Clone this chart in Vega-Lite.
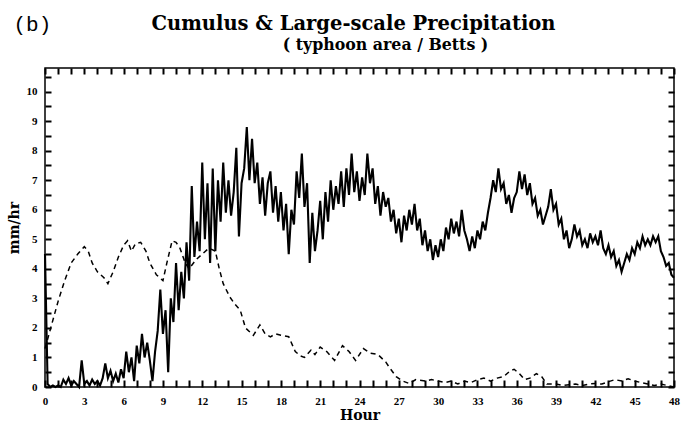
{
  "$schema": "https://vega.github.io/schema/vega-lite/v6.json",
  "width": 629,
  "height": 319,
  "autosize": {"type": "none"},
  "padding": {"left": 45, "top": 68, "right": 17, "bottom": 43},
  "background": "white",
  "view": {"stroke": "black", "strokeWidth": 1.5},
  "title": {
    "text": "Cumulus & Large-scale Precipitation",
    "anchor": "middle",
    "frame": "group",
    "dx": -6,
    "offset": -21,
    "font": "DejaVu Serif",
    "fontWeight": "bold",
    "fontSize": 19.5,
    "color": "black"
  },
  "datasets": {
    "solid": [
      {"h":0,"v":4.5},{"h":0.2,"v":0.1},{"h":0.4,"v":0},{"h":0.6,"v":0.05},{"h":0.8,"v":0},{"h":1.0,"v":0.05},{"h":1.2,"v":0},{"h":1.4,"v":0.25},{"h":1.6,"v":0.1},{"h":1.8,"v":0.3},
      {"h":2.0,"v":0.05},{"h":2.2,"v":0.2},{"h":2.4,"v":0.1},{"h":2.6,"v":0},{"h":2.8,"v":0.9},{"h":3.0,"v":0.1},{"h":3.2,"v":0.2},{"h":3.4,"v":0.05},{"h":3.6,"v":0.25},{"h":3.8,"v":0.1},
      {"h":4.0,"v":0.2},{"h":4.2,"v":0.05},{"h":4.4,"v":0.3},{"h":4.6,"v":0.8},{"h":4.8,"v":0.3},{"h":5.0,"v":0.55},{"h":5.2,"v":0.2},{"h":5.4,"v":0.45},{"h":5.6,"v":0.15},{"h":5.8,"v":0.6},
      {"h":6.0,"v":0.3},{"h":6.2,"v":1.2},{"h":6.4,"v":0.5},{"h":6.6,"v":1.0},{"h":6.8,"v":0.2},{"h":7.0,"v":1.4},{"h":7.2,"v":0.8},{"h":7.4,"v":1.8},{"h":7.6,"v":1.0},{"h":7.8,"v":1.5},
      {"h":8.0,"v":0.9},{"h":8.2,"v":0.2},{"h":8.4,"v":1.2},{"h":8.6,"v":1.9},{"h":8.8,"v":3.3},{"h":9.0,"v":1.8},{"h":9.2,"v":2.6},{"h":9.4,"v":0.5},{"h":9.6,"v":3.0},{"h":9.8,"v":2.2},
      {"h":10.0,"v":4.2},{"h":10.2,"v":2.6},{"h":10.4,"v":3.9},{"h":10.6,"v":3.0},{"h":10.8,"v":4.9},{"h":11.0,"v":3.6},{"h":11.2,"v":6.8},{"h":11.4,"v":4.4},{"h":11.6,"v":5.6},{"h":11.8,"v":4.6},
      {"h":12.0,"v":7.6},{"h":12.2,"v":5.0},{"h":12.4,"v":6.9},{"h":12.6,"v":4.2},{"h":12.8,"v":7.4},{"h":13.0,"v":4.6},{"h":13.2,"v":7.0},{"h":13.4,"v":5.6},{"h":13.6,"v":7.6},{"h":13.8,"v":5.9},
      {"h":14.0,"v":7.0},{"h":14.2,"v":5.8},{"h":14.4,"v":6.6},{"h":14.6,"v":8.1},{"h":14.8,"v":5.1},{"h":15.0,"v":6.9},{"h":15.2,"v":7.4},{"h":15.4,"v":8.8},{"h":15.6,"v":7.0},{"h":15.8,"v":8.4},
      {"h":16.0,"v":6.9},{"h":16.2,"v":7.6},{"h":16.4,"v":6.2},{"h":16.6,"v":7.1},{"h":16.8,"v":5.8},{"h":17.0,"v":6.9},{"h":17.2,"v":7.3},{"h":17.4,"v":5.9},{"h":17.6,"v":6.8},{"h":17.8,"v":5.6},
      {"h":18.0,"v":6.6},{"h":18.2,"v":5.3},{"h":18.4,"v":6.2},{"h":18.6,"v":4.5},{"h":18.8,"v":6.0},{"h":19.0,"v":5.5},{"h":19.2,"v":7.3},{"h":19.4,"v":6.4},{"h":19.6,"v":7.9},{"h":19.8,"v":6.1},
      {"h":20.0,"v":6.9},{"h":20.2,"v":4.2},{"h":20.4,"v":5.9},{"h":20.6,"v":4.6},{"h":20.8,"v":5.3},{"h":21.0,"v":6.3},{"h":21.2,"v":5.0},{"h":21.4,"v":6.6},{"h":21.6,"v":5.6},{"h":21.8,"v":7.0},
      {"h":22.0,"v":6.0},{"h":22.2,"v":6.8},{"h":22.4,"v":6.2},{"h":22.6,"v":7.3},{"h":22.8,"v":6.1},{"h":23.0,"v":7.4},{"h":23.2,"v":6.5},{"h":23.4,"v":7.9},{"h":23.6,"v":6.6},{"h":23.8,"v":7.3},
      {"h":24.0,"v":6.3},{"h":24.2,"v":7.1},{"h":24.4,"v":6.5},{"h":24.6,"v":7.9},{"h":24.8,"v":6.9},{"h":25.0,"v":7.4},{"h":25.2,"v":6.2},{"h":25.4,"v":6.8},{"h":25.6,"v":5.8},{"h":25.8,"v":6.6},
      {"h":26.0,"v":6.1},{"h":26.2,"v":6.4},{"h":26.4,"v":5.6},{"h":26.6,"v":6.0},{"h":26.8,"v":5.2},{"h":27.0,"v":5.7},{"h":27.2,"v":4.9},{"h":27.4,"v":5.8},{"h":27.6,"v":5.3},{"h":27.8,"v":6.0},
      {"h":28.0,"v":5.5},{"h":28.2,"v":6.2},{"h":28.4,"v":5.3},{"h":28.6,"v":5.7},{"h":28.8,"v":4.8},{"h":29.0,"v":5.3},{"h":29.2,"v":4.6},{"h":29.4,"v":5.0},{"h":29.6,"v":4.3},{"h":29.8,"v":4.8},
      {"h":30.0,"v":4.4},{"h":30.2,"v":5.0},{"h":30.4,"v":4.6},{"h":30.6,"v":5.4},{"h":30.8,"v":5.0},{"h":31.0,"v":5.7},{"h":31.2,"v":5.2},{"h":31.4,"v":5.6},{"h":31.6,"v":5.1},{"h":31.8,"v":6.0},
      {"h":32.0,"v":5.3},{"h":32.2,"v":5.0},{"h":32.4,"v":4.6},{"h":32.6,"v":5.1},{"h":32.8,"v":4.7},{"h":33.0,"v":5.3},{"h":33.2,"v":5.0},{"h":33.4,"v":5.6},{"h":33.6,"v":5.3},{"h":33.8,"v":5.9},
      {"h":34.0,"v":6.4},{"h":34.2,"v":7.0},{"h":34.4,"v":6.6},{"h":34.6,"v":7.4},{"h":34.8,"v":6.7},{"h":35.0,"v":6.9},{"h":35.2,"v":6.2},{"h":35.4,"v":6.5},{"h":35.6,"v":5.9},{"h":35.8,"v":6.4},
      {"h":36.0,"v":6.6},{"h":36.2,"v":7.3},{"h":36.4,"v":6.7},{"h":36.6,"v":7.2},{"h":36.8,"v":6.5},{"h":37.0,"v":6.9},{"h":37.2,"v":6.2},{"h":37.4,"v":6.4},{"h":37.6,"v":5.8},{"h":37.8,"v":6.0},
      {"h":38.0,"v":5.5},{"h":38.2,"v":5.8},{"h":38.4,"v":6.1},{"h":38.6,"v":6.7},{"h":38.8,"v":6.0},{"h":39.0,"v":6.2},{"h":39.2,"v":5.5},{"h":39.4,"v":5.7},{"h":39.6,"v":5.0},{"h":39.8,"v":5.3},
      {"h":40.0,"v":4.7},{"h":40.2,"v":5.0},{"h":40.4,"v":5.5},{"h":40.6,"v":5.1},{"h":40.8,"v":5.3},{"h":41.0,"v":4.8},{"h":41.2,"v":5.0},{"h":41.4,"v":4.7},{"h":41.6,"v":5.2},{"h":41.8,"v":4.9},
      {"h":42.0,"v":5.1},{"h":42.2,"v":4.8},{"h":42.4,"v":5.3},{"h":42.6,"v":4.7},{"h":42.8,"v":4.5},{"h":43.0,"v":4.8},{"h":43.2,"v":4.4},{"h":43.4,"v":4.6},{"h":43.6,"v":4.1},{"h":43.8,"v":4.3},
      {"h":44.0,"v":3.9},{"h":44.2,"v":4.2},{"h":44.4,"v":4.5},{"h":44.6,"v":4.3},{"h":44.8,"v":4.7},{"h":45.0,"v":4.5},{"h":45.2,"v":4.9},{"h":45.4,"v":4.7},{"h":45.6,"v":5.1},{"h":45.8,"v":4.8},
      {"h":46.0,"v":5.0},{"h":46.2,"v":4.8},{"h":46.4,"v":5.1},{"h":46.6,"v":4.9},{"h":46.8,"v":5.1},{"h":47.0,"v":4.6},{"h":47.2,"v":4.4},{"h":47.4,"v":4.1},{"h":47.6,"v":4.2},{"h":47.8,"v":3.8},
      {"h":48.0,"v":3.7}
    ],
    "dashed": [
      {"h":0,"v":1.3},{"h":0.5,"v":2.1},{"h":1.0,"v":2.9},{"h":1.5,"v":3.6},{"h":2.0,"v":4.2},{"h":2.5,"v":4.5},{"h":3.0,"v":4.75},{"h":3.3,"v":4.6},{"h":3.6,"v":4.2},{"h":4.0,"v":3.9},
      {"h":4.5,"v":3.7},{"h":4.8,"v":3.5},{"h":5.2,"v":3.9},{"h":5.6,"v":4.4},{"h":6.0,"v":4.8},{"h":6.3,"v":4.95},{"h":6.6,"v":4.6},{"h":6.9,"v":4.85},{"h":7.3,"v":4.9},{"h":7.7,"v":4.6},
      {"h":8.0,"v":4.2},{"h":8.5,"v":3.8},{"h":9.0,"v":3.6},{"h":9.3,"v":4.2},{"h":9.7,"v":4.95},{"h":10.0,"v":4.9},{"h":10.3,"v":4.7},{"h":10.7,"v":4.2},{"h":11.0,"v":4.0},{"h":11.5,"v":4.3},
      {"h":12.0,"v":4.5},{"h":12.5,"v":4.7},{"h":13.0,"v":4.6},{"h":13.3,"v":4.0},{"h":13.6,"v":3.5},{"h":14.1,"v":3.05},{"h":14.5,"v":2.8},{"h":14.9,"v":2.6},{"h":15.3,"v":2.0},{"h":15.9,"v":1.75},
      {"h":16.4,"v":2.1},{"h":16.8,"v":1.8},{"h":17.2,"v":1.7},{"h":17.6,"v":1.8},{"h":18.0,"v":1.75},{"h":18.6,"v":1.7},{"h":19.1,"v":1.2},{"h":19.5,"v":1.05},{"h":19.8,"v":1.0},{"h":20.3,"v":1.25},
      {"h":20.6,"v":1.1},{"h":21.0,"v":1.35},{"h":21.5,"v":1.2},{"h":22.1,"v":0.9},{"h":22.7,"v":1.4},{"h":23.2,"v":1.2},{"h":23.7,"v":0.9},{"h":24.3,"v":1.3},{"h":24.8,"v":1.15},{"h":25.4,"v":1.1},
      {"h":26.0,"v":0.85},{"h":26.3,"v":0.65},{"h":26.8,"v":0.35},{"h":27.3,"v":0.2},{"h":27.8,"v":0.12},{"h":28.3,"v":0.25},{"h":29.0,"v":0.2},{"h":29.5,"v":0.25},{"h":30.0,"v":0.2},{"h":30.5,"v":0.15},
      {"h":31.0,"v":0.2},{"h":31.5,"v":0.1},{"h":32.0,"v":0.2},{"h":32.5,"v":0.15},{"h":33.0,"v":0.25},{"h":33.5,"v":0.3},{"h":34.0,"v":0.2},{"h":34.5,"v":0.3},{"h":35.0,"v":0.35},{"h":35.5,"v":0.55},
      {"h":35.8,"v":0.6},{"h":36.2,"v":0.45},{"h":36.6,"v":0.25},{"h":37.0,"v":0.3},{"h":37.5,"v":0.45},{"h":37.9,"v":0.35},{"h":38.3,"v":0.1},{"h":39.0,"v":0.1},{"h":39.5,"v":0.05},{"h":40.0,"v":0.08},
      {"h":40.5,"v":0.1},{"h":41.0,"v":0.05},{"h":41.5,"v":0.1},{"h":42.0,"v":0.12},{"h":42.5,"v":0.1},{"h":43.0,"v":0.18},{"h":43.5,"v":0.25},{"h":44.0,"v":0.2},{"h":44.5,"v":0.28},{"h":45.0,"v":0.2},
      {"h":45.5,"v":0.15},{"h":46.0,"v":0.1},{"h":46.5,"v":0.05},{"h":47.0,"v":0.1},{"h":47.5,"v":0.05},{"h":48.0,"v":0}
    ]
  },
  "resolve": {"axis": {"x": "independent", "y": "independent"}},
  "layer": [
    {
      "data": {"name": "dashed"},
      "mark": {"type": "line", "color": "black", "strokeWidth": 1.5, "strokeDash": [5, 4]},
      "encoding": {
        "x": {
          "field": "h", "type": "quantitative",
          "scale": {"domain": [0, 48], "nice": false},
          "axis": {
            "orient": "top",
            "offset": -6,
            "values": [0,1,2,3,4,5,6,7,8,9,10,11,12,13,14,15,16,17,18,19,20,21,22,23,24,25,26,27,28,29,30,31,32,33,34,35,36,37,38,39,40,41,42,43,44,45,46,47,48],
            "labels": false,
            "gridOpacity": 0,
            "domain": false,
            "tickColor": "black", "tickWidth": 2, "tickSize": 6,
            "title": "( typhoon area / Betts )",
            "titleFont": "DejaVu Serif", "titleFontSize": 15.8, "titleFontWeight": "bold", "titleColor": "black",
            "titleAlign": "center", "titleBaseline": "alphabetic", "titleAngle": 0,
            "titleX": 340, "titleY": -25
          }
        },
        "y": {
          "field": "v", "type": "quantitative",
          "scale": {"domain": [0, 10.8], "nice": false},
          "axis": {
            "orient": "right",
            "offset": -6,
            "values": [0,0.5,1,1.5,2,2.5,3,3.5,4,4.5,5,5.5,6,6.5,7,7.5,8,8.5,9,9.5,10,10.5],
            "labels": false,
            "gridOpacity": 0,
            "domain": false,
            "tickColor": "black", "tickWidth": 2, "tickSize": 6,
            "title": "(b)",
            "titleFont": "Liberation Mono", "titleFontSize": 21, "titleFontWeight": "normal", "titleColor": "black",
            "titleAlign": "left", "titleBaseline": "alphabetic", "titleAngle": 0,
            "titleX": -655, "titleY": -38
          }
        }
      }
    },
    {
      "data": {"name": "solid"},
      "mark": {"type": "line", "color": "black", "strokeWidth": 2.1},
      "encoding": {
        "x": {
          "field": "h", "type": "quantitative",
          "scale": {"domain": [0, 48], "nice": false},
          "axis": {
            "orient": "bottom",
            "offset": -7,
            "values": [0,1,2,3,4,5,6,7,8,9,10,11,12,13,14,15,16,17,18,19,20,21,22,23,24,25,26,27,28,29,30,31,32,33,34,35,36,37,38,39,40,41,42,43,44,45,46,47,48],
            "labelExpr": "datum.value % 3 === 0 ? format(datum.value, 'd') : ''",
            "labelOverlap": false, "labelFlush": false, "labelBound": false,
            "labelFont": "Liberation Serif", "labelFontWeight": "bold", "labelFontSize": 11, "labelColor": "black",
            "labelPadding": 8,
            "gridOpacity": 0,
            "domain": false,
            "tickColor": "black", "tickWidth": 2, "tickSize": 7,
            "title": "Hour",
            "titleFont": "DejaVu Serif", "titleFontWeight": "bold", "titleFontSize": 14, "titleColor": "black",
            "titlePadding": 2
          }
        },
        "y": {
          "field": "v", "type": "quantitative",
          "scale": {"domain": [0, 10.8], "nice": false},
          "axis": {
            "orient": "left",
            "offset": -6,
            "values": [0,0.5,1,1.5,2,2.5,3,3.5,4,4.5,5,5.5,6,6.5,7,7.5,8,8.5,9,9.5,10,10.5],
            "labelExpr": "datum.value % 1 === 0 ? format(datum.value, 'd') : ''",
            "labelOverlap": false, "labelFlush": false, "labelBound": false,
            "labelFont": "Liberation Serif", "labelFontWeight": "bold", "labelFontSize": 11, "labelColor": "black",
            "labelPadding": 8,
            "gridOpacity": 0,
            "domain": false,
            "tickColor": "black", "tickWidth": 2, "tickSize": 6,
            "title": "mm/hr",
            "titleFont": "DejaVu Serif", "titleFontWeight": "bold", "titleFontSize": 14, "titleColor": "black",
            "titlePadding": 5
          }
        }
      }
    }
  ]
}
